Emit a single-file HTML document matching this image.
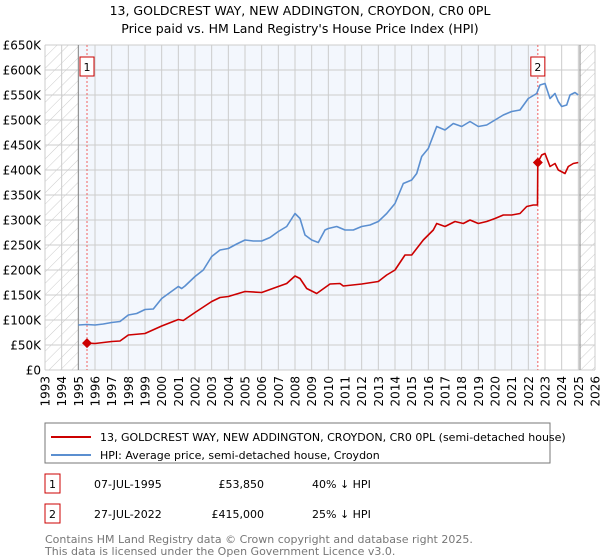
<!DOCTYPE html>
<html><head><meta charset="utf-8"><style>
body{margin:0;background:#fff;font-family:"Liberation Sans","DejaVu Sans",sans-serif;}
#wrap{position:relative;width:600px;height:560px;overflow:hidden;}
svg text{font-family:"DejaVu Sans","Liberation Sans",sans-serif;}
</style></head><body>
<div id="wrap">
<svg id="chart" width="600" height="560" xmlns="http://www.w3.org/2000/svg">
<defs>
<pattern id="hatch" width="8" height="8" patternUnits="userSpaceOnUse" patternTransform="rotate(45)">
<line x1="0" y1="0" x2="0" y2="8" stroke="#ccc" stroke-width="1"/>
</pattern>
</defs>
<text x="300" y="15" text-anchor="middle" font-size="12.5" fill="#000">13, GOLDCREST WAY, NEW ADDINGTON, CROYDON, CR0 0PL</text>
<text x="300" y="33" text-anchor="middle" font-size="12.5" fill="#000">Price paid vs. HM Land Registry's House Price Index (HPI)</text>
<g id="plot"></g>
<rect x="45" y="423" width="505" height="40" fill="#fff" stroke="#777"/>
<line x1="51" y1="437" x2="91" y2="437" stroke="#cc0000" stroke-width="2"/>
<text x="100" y="441" font-size="11">13, GOLDCREST WAY, NEW ADDINGTON, CROYDON, CR0 0PL (semi-detached house)</text>
<line x1="51" y1="455" x2="91" y2="455" stroke="#5b8fd0" stroke-width="2"/>
<text x="100" y="459" font-size="11">HPI: Average price, semi-detached house, Croydon</text>
<rect x="45" y="474" width="15" height="19" fill="#fff" stroke="#cc0000"/>
<text x="52.5" y="488" text-anchor="middle" font-size="11">1</text>
<text x="94" y="488" font-size="11">07-JUL-1995</text>
<text x="264" y="488" text-anchor="end" font-size="11">£53,850</text>
<text x="312" y="488" font-size="11">40% ↓ HPI</text>
<rect x="45" y="504" width="15" height="19" fill="#fff" stroke="#cc0000"/>
<text x="52.5" y="518" text-anchor="middle" font-size="11">2</text>
<text x="94" y="518" font-size="11">27-JUL-2022</text>
<text x="264" y="518" text-anchor="end" font-size="11">£415,000</text>
<text x="312" y="518" font-size="11">25% ↓ HPI</text>
<text x="45" y="543" font-size="11" fill="#777">Contains HM Land Registry data © Crown copyright and database right 2025.</text>
<text x="45" y="555" font-size="11" fill="#777">This data is licensed under the Open Government Licence v3.0.</text>
</svg>
</div>
<script>
const hpiYears=[1995,1995.5,1996,1996.5,1997,1997.5,1998,1998.5,1999,1999.5,2000,2000.5,2001,2001.2,2001.4,2002,2002.5,2003,2003.5,2004,2004.5,2005,2005.5,2006,2006.5,2007,2007.5,2008,2008.3,2008.6,2009,2009.4,2009.8,2010,2010.5,2011,2011.5,2012,2012.5,2013,2013.5,2014,2014.5,2015,2015.3,2015.6,2016,2016.5,2017,2017.5,2018,2018.5,2019,2019.5,2020,2020.5,2021,2021.5,2022,2022.5,2022.7,2023,2023.3,2023.6,2023.8,2024,2024.3,2024.5,2024.8,2025];
const hpiValues=[90,91,90,92,95,97,110,113,121,122,143,155,167,163,168,187,200,227,240,243,252,260,258,258,265,277,287,313,303,270,260,255,280,283,287,280,280,287,290,297,313,333,373,380,393,427,443,487,480,493,487,497,487,490,500,510,517,520,543,553,570,573,543,553,537,527,530,550,555,550];
const priceYears=[1995.52,1996,1997,1997.5,1998,1999,2000,2001,2001.3,2002,2003,2003.5,2004,2005,2006,2007,2007.5,2008,2008.3,2008.7,2009.3,2010.1,2010.7,2010.9,2012,2013,2013.5,2014,2014.6,2015,2015.7,2016.3,2016.5,2017,2017.6,2018.1,2018.5,2019,2019.5,2020,2020.5,2021,2021.5,2021.9,2022.3,2022.55,2022.57,2022.8,2023,2023.3,2023.6,2023.8,2024.2,2024.4,2024.7,2025];
const priceValues=[53.85,53,57,58,70,73,88,101,99,115,137,145,147,157,155,167,173,188,183,163,153,172,173,168,172,177,190,200,230,230,260,280,293,287,297,293,300,293,297,303,310,310,313,327,330,330,415,430,433,407,413,400,393,407,413,415];
const saleYears=[1995.52,2022.57];
const saleValues=[53.85,415];
const saleLabels=["1","2"];
const yTicks=[0,50,100,150,200,250,300,350,400,450,500,550,600,650];
const yTickLabels=["£0","£50K","£100K","£150K","£200K","£250K","£300K","£350K","£400K","£450K","£500K","£550K","£600K","£650K"];
const xTicks=[1993,1994,1995,1996,1997,1998,1999,2000,2001,2002,2003,2004,2005,2006,2007,2008,2009,2010,2011,2012,2013,2014,2015,2016,2017,2018,2019,2020,2021,2022,2023,2024,2025,2026];

const X0=45,X1=595,Y0=370,Y1=45,YMIN=1993,YMAX=2026,VMAX=650;
function xs(y){return X0+(y-YMIN)/(YMAX-YMIN)*(X1-X0);}
function ys(v){return Y0-v/VMAX*(Y0-Y1);}
const NS="http://www.w3.org/2000/svg";
const g=document.getElementById('plot');
function mk(t,a){const e=document.createElementNS(NS,t);for(const k in a)e.setAttribute(k,a[k]);g.appendChild(e);return e;}
const dataStart=1995,dataEnd=2025.1;
let r=mk('rect',{x:X0,y:Y1,width:X1-X0,height:Y0-Y1,fill:'#fff'});


r=mk('rect',{x:xs(dataStart),y:Y1,width:xs(saleYears[1])-xs(dataStart),height:Y0-Y1,fill:'#eef3fc',opacity:0.7});


r=mk('rect',{x:X0,y:Y1,width:xs(dataStart)-X0,height:Y0-Y1,fill:'url(#hatch)'});


r=mk('rect',{x:xs(dataEnd),y:Y1,width:X1-xs(dataEnd),height:Y0-Y1,fill:'url(#hatch)'});


yTicks.forEach((v,i)=>{
 const l=mk('line',{x1:X0,x2:X1,y1:ys(v),y2:ys(v),stroke:'#ccc','stroke-width':1});
 
 
 const t=mk('text',{x:X0-4,y:ys(v)+4.5,'text-anchor':'end','font-size':12});
 t.textContent=yTickLabels[i];
 
 
});
xTicks.forEach(v=>{
 const l=mk('line',{x1:xs(v),x2:xs(v),y1:Y1,y2:Y0,stroke:'#ccc','stroke-width':1});
 
 
 const t=mk('text',{x:xs(v)+4.5,y:Y0+6,'text-anchor':'end','font-size':12,transform:`rotate(-90 ${xs(v)+4.5} ${Y0+6})`});
 t.textContent=v;
 
 
});
[dataStart,dataEnd].forEach(v=>{
 const l=mk('line',{x1:xs(v),x2:xs(v),y1:Y1,y2:Y0,stroke:'#888','stroke-width':1});
 
 
});
saleYears.forEach((v,i)=>{
 const l=mk('line',{x1:xs(v),x2:xs(v),y1:Y1,y2:Y0,stroke:'#f06060','stroke-width':1,'stroke-dasharray':'2,2'});
 
 
});
function path(xa,va,color,name){
 const d=xa.map((x,i)=>(i?'L':'M')+xs(x).toFixed(1)+','+ys(va[i]).toFixed(1)).join('');
 const p=mk('path',{d:d,fill:'none',stroke:color,'stroke-width':1.6,'stroke-linejoin':'round'});
 
 
}
path(hpiYears,hpiValues,'#5b8fd0','hpi-line');
path(priceYears,priceValues,'#cc0000','price-paid-line');
saleYears.forEach((v,i)=>{
 const cx=xs(v),cy=ys(saleValues[i]);
 const d=mk('path',{d:`M${cx-5},${cy}L${cx},${cy-5}L${cx+5},${cy}L${cx},${cy+5}Z`,fill:'#cc0000'});
 
 
 const b=mk('rect',{x:cx-7,y:57,width:14,height:19,fill:'#fff',stroke:'#cc0000'});
 
 
 const t=mk('text',{x:cx,y:71,'text-anchor':'middle','font-size':11});
 t.textContent=saleLabels[i];
 
 
});
</script>
</body></html>
